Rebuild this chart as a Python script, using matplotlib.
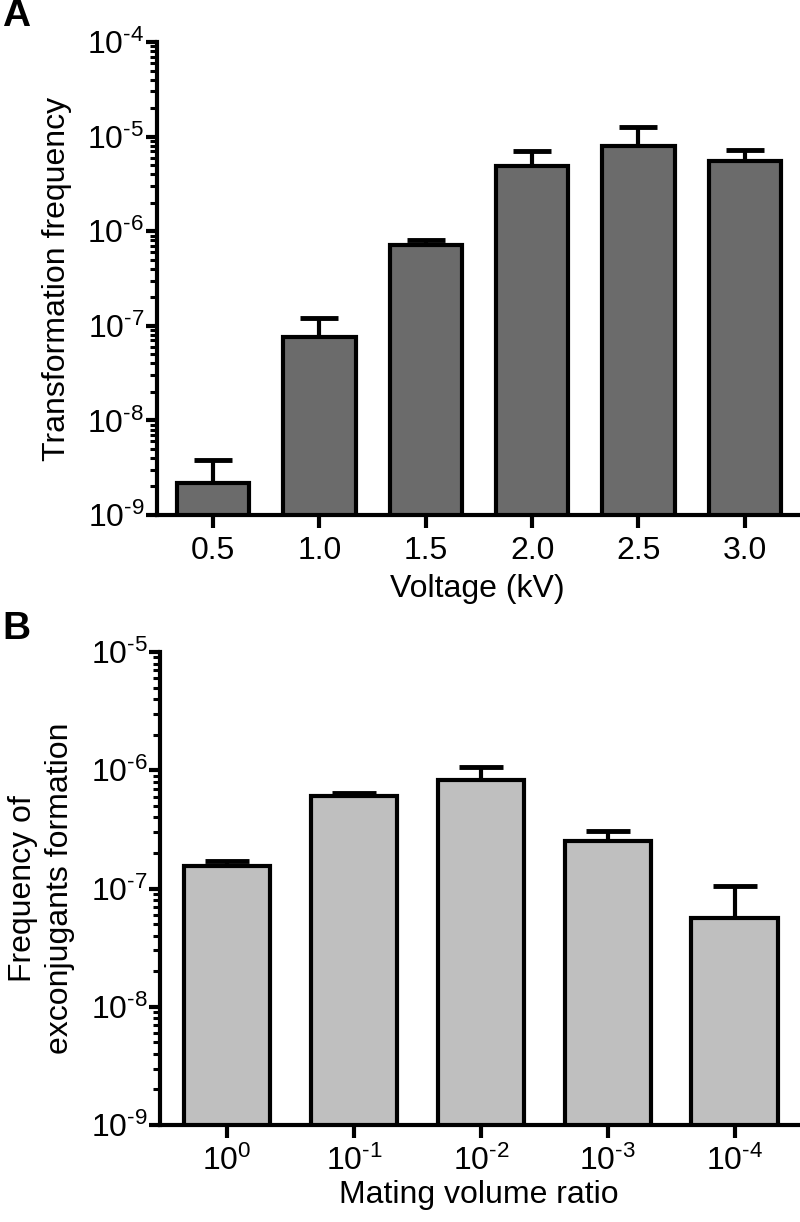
import numpy as np
import matplotlib
matplotlib.use("Agg")
import matplotlib.pyplot as plt
from matplotlib.ticker import LogLocator, FixedLocator, NullFormatter

plt.rcParams['font.family'] = ['Liberation Sans', 'DejaVu Sans']
plt.rcParams['mathtext.fontset'] = 'custom'
plt.rcParams['mathtext.rm'] = 'Liberation Sans'
plt.rcParams['mathtext.it'] = 'Liberation Sans'
plt.rcParams['mathtext.bf'] = 'Liberation Sans:bold'

# Panel A data
voltage_labels = ["0.5", "1.0", "1.5", "2.0", "2.5", "3.0"]
transf_freq = [2.2e-9, 7.6e-8, 7.1e-7, 4.9e-6, 8.05e-6, 5.57e-6]
transf_upper = [3.8e-9, 1.2e-7, 8.0e-7, 7.1e-6, 1.25e-5, 7.2e-6]

# Panel B data
ratio_exps = [0, -1, -2, -3, -4]
excon_freq = [1.56e-7, 6.07e-7, 8.3e-7, 2.54e-7, 5.6e-8]
excon_upper = [1.71e-7, 6.4e-7, 1.07e-6, 3.05e-7, 1.05e-7]

FS = 23

def pow_label(e):
    return r"$10^{\text{%d}}$" % e

fig = plt.figure(figsize=(8, 12.22), dpi=100)

def style_axes(ax, ymin_exp, ymax_exp):
    ax.set_yscale('log')
    ax.set_ylim(10.0**ymin_exp, 10.0**ymax_exp)
    for s in ['top', 'right']:
        ax.spines[s].set_visible(False)
    for s in ['left', 'bottom']:
        ax.spines[s].set_linewidth(3)
    ax.yaxis.set_major_locator(FixedLocator([10.0**e for e in range(ymin_exp, ymax_exp + 1)]))
    ax.set_yticklabels([pow_label(e) for e in range(ymin_exp, ymax_exp + 1)])
    ax.yaxis.set_minor_locator(LogLocator(base=10, subs=np.arange(2, 10), numticks=20))
    ax.yaxis.set_minor_formatter(NullFormatter())
    ax.tick_params(axis='y', which='major', length=8, width=3, labelsize=FS, pad=1)
    ax.tick_params(axis='y', which='minor', length=5, width=2.2)
    ax.tick_params(axis='x', which='major', length=9, width=3, labelsize=FS, pad=6)

def draw_bars(ax, labels, vals, upper, color, capsize):
    x = np.arange(len(labels))
    ax.bar(x, vals, width=0.68, color=color, edgecolor='black', linewidth=3, zorder=2)
    yerr = np.array([np.zeros(len(vals)), np.array(upper) - np.array(vals)])
    ax.errorbar(x, vals, yerr=yerr, fmt='none', ecolor='black', elinewidth=3,
                capsize=capsize, capthick=3.5, zorder=1)
    ax.set_xticks(x)
    ax.set_xticklabels(labels)
    ax.set_xlim(-0.53, len(labels) - 0.5)

# Panel A
axA = fig.add_axes([0.196, 0.5786, 0.8015, 0.387])
style_axes(axA, -9, -4)
draw_bars(axA, voltage_labels, transf_freq, transf_upper, '#6b6b6b', 14)
axA.set_xlabel("Voltage (kV)", fontsize=FS, labelpad=6)
axA.set_ylabel("Transformation frequency", fontsize=FS, labelpad=11)
fig.text(0.003, 0.987, "A", fontsize=28, fontweight='bold', va='center', ha='left')

# Panel B
axB = fig.add_axes([0.2, 0.0794, 0.7975, 0.387])
style_axes(axB, -9, -5)
draw_bars(axB, [pow_label(e) for e in ratio_exps], excon_freq, excon_upper, '#bfbfbf', 16)
axB.set_xlabel("Mating volume ratio", fontsize=FS, labelpad=2)
axB.set_ylabel("Frequency of\nexconjugants formation", fontsize=FS, labelpad=11, linespacing=1.3)
fig.text(0.003, 0.485, "B", fontsize=28, fontweight='bold', va='center', ha='left')

fig.savefig("out.png", dpi=100)
